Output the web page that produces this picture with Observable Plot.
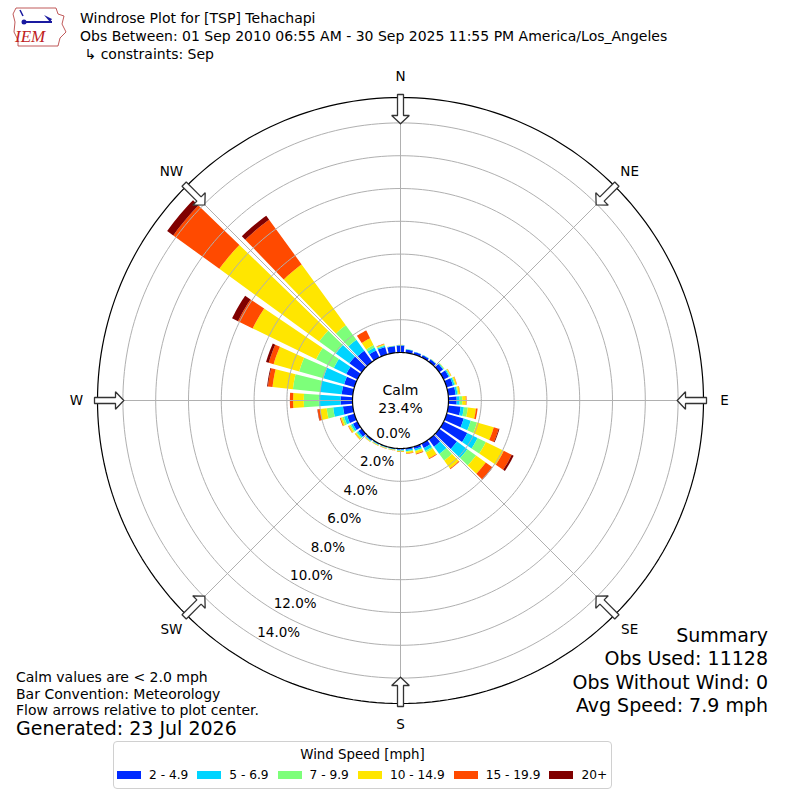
<!DOCTYPE html>
<html>
<head>
<meta charset="utf-8">
<script src="https://cdn.jsdelivr.net/npm/d3@7"></script>
<script src="https://cdn.jsdelivr.net/npm/@observablehq/plot@0.6"></script>
<style>
  html, body { margin: 0; padding: 0; background: white; }
  body { font-family: "DejaVu Sans", sans-serif; color: black; }
  #wrap { position: relative; width: 800px; height: 800px; overflow: hidden; }
  .t { position: absolute; white-space: pre; line-height: 1; }
  #legend { position: absolute; left: 113px; top: 741px; width: 497px; height: 46px;
            border: 1px solid #d0d0d0; border-radius: 4px; background: white; }
  #legend .lt { position: absolute; left: 0; right: 0; top: 5px; text-align: center; font-size: 13.4px; white-space: nowrap; }
  #legend .row { position: absolute; left: 3px; top: 26px; display: flex; align-items: center; font-size: 12.2px; white-space: nowrap; }
  #legend .sw { width: 24px; height: 8px; margin-right: 8px; flex: none; }
  #legend .it { display: flex; align-items: center; margin-right: 9px; white-space: nowrap; flex: none; }
</style>
</head>
<body>
<div id="wrap"></div>
<script>
// ---------------- data ----------------
const directions = [0,10,20,30,40,50,60,70,80,90,100,110,120,130,140,150,160,170,
                    180,190,200,210,220,230,240,250,260,270,280,290,300,310,320,330,340,350];
const speedClasses = ["2 - 4.9", "5 - 6.9", "7 - 9.9", "10 - 14.9", "15 - 19.9", "20+"];
const classColors = ["#002aff", "#00d4ff", "#7dff7a", "#ffe600", "#ff4a00", "#800000"];

// percent of observations per direction, per speed class
const pct_2_4   = [0.43,0.20,0.15,0.15,0.18,0.28,0.35,0.40,0.45,0.50,0.76,1.08,1.60,1.33,0.55,0.30,0.15,0.10,
                   0.08,0.05,0.05,0.06,0.10,0.25,0.30,0.45,0.60,0.73,0.68,0.65,0.75,0.93,0.83,0.47,0.47,0.40];
const pct_5_6   = [0.02,0.02,0.02,0.02,0.02,0.05,0.07,0.10,0.11,0.18,0.20,0.45,0.70,0.79,0.55,0.20,0.10,0.08,
                   0.04,0.03,0.03,0.03,0.04,0.10,0.12,0.20,0.60,1.32,1.34,1.32,0.85,1.02,0.82,0.20,0.08,0.02];
const pct_7_9   = [0.01,0.01,0.00,0.01,0.01,0.03,0.05,0.06,0.06,0.16,0.24,0.40,0.56,0.65,0.50,0.10,0.05,0.04,
                   0.03,0.02,0.02,0.03,0.03,0.07,0.08,0.12,0.40,0.92,1.65,1.53,1.20,1.25,1.10,0.16,0.05,0.01];
const pct_10_14 = [0.01,0.00,0.00,0.00,0.01,0.02,0.05,0.08,0.10,0.22,0.50,1.06,1.22,0.73,0.60,0.40,0.15,0.10,
                   0.05,0.03,0.03,0.03,0.03,0.08,0.10,0.10,0.40,0.65,1.25,1.62,4.30,7.53,4.58,0.47,0.05,0.01];
const pct_15_19 = [0.00,0.00,0.00,0.00,0.00,0.00,0.01,0.02,0.02,0.04,0.10,0.31,0.54,0.50,0.05,0.05,0.05,0.03,
                   0.02,0.01,0.01,0.01,0.01,0.02,0.03,0.05,0.15,0.20,0.28,0.31,1.00,3.47,3.37,0.53,0.03,0.00];
const pct_20p   = [0.00,0.00,0.00,0.00,0.00,0.00,0.00,0.00,0.00,0.00,0.00,0.05,0.13,0.02,0.00,0.00,0.00,0.00,
                   0.00,0.00,0.00,0.00,0.00,0.00,0.00,0.00,0.02,0.00,0.05,0.17,0.40,0.46,0.30,0.00,0.00,0.00];

const ringValues = [0, 2, 4, 6, 8, 10, 12, 14];
const compassLabels = ["N", "NE", "E", "SE", "S", "SW", "W", "NW"];
const compassAngles = [0, 45, 90, 135, 180, 225, 270, 315];
const calmPercent = 23.4;
const summaryLines = ["Summary", "Obs Used: 11128", "Obs Without Wind: 0", "Avg Speed: 7.9 mph"];
const noteLines = ["Calm values are < 2.0 mph", "Bar Convention: Meteorology", "Flow arrows relative to plot center."];
const generatedText = "Generated: 23 Jul 2026";
const titleLines = ["Windrose Plot for [TSP] Tehachapi",
                    "Obs Between: 01 Sep 2010 06:55 AM - 30 Sep 2025 11:55 PM America/Los_Angeles",
                    " \u21b3 constraints: Sep"];
const legendTitle = "Wind Speed [mph]";

// ---------------- geometry helpers (layout) ----------------
const PX = 16.4;            // pixels per percent
const CALM = 48 / PX;       // calm circle radius in percent units
const OUTER = 303 / PX;     // outer frame radius
const LABR = 324 / PX;      // compass label radius
const OPEN = 8;             // bar angular width (deg)
const HALF = 400 / PX;

function pol(r, deg) { const a = deg * Math.PI / 180; return [r * Math.sin(a), r * Math.cos(a)]; }
function circle(r, key, n = 240) {
  const pts = [];
  for (let j = 0; j <= n; j++) { const [x, y] = pol(r, 360 * j / n); pts.push({x, y, key}); }
  return pts;
}

const series = [pct_2_4, pct_5_6, pct_7_9, pct_10_14, pct_15_19, pct_20p];
const wedges = [];
directions.forEach((d, i) => {
  let cum = 0;
  series.forEach((s, k) => {
    const v = s[i];
    if (!(v > 0)) return;
    const r0 = CALM + cum, r1 = CALM + cum + v;
    cum += v;
    const id = d + "-" + k, n = 10;
    for (let j = 0; j <= n; j++) { const [x, y] = pol(r0, d - OPEN / 2 + OPEN * j / n); wedges.push({id, cls: speedClasses[k], x, y}); }
    for (let j = n; j >= 0; j--) { const [x, y] = pol(r1, d - OPEN / 2 + OPEN * j / n); wedges.push({id, cls: speedClasses[k], x, y}); }
  });
});

const ringPts = ringValues.filter(v => v > 0).flatMap(v => circle(CALM + v, v));
const outerPts = circle(OUTER, "outer");
const calmPts = circle(CALM, "calm");

// flow arrows (pointing to center), shape in pixels along/perpendicular
const arrowShape = [[276.7, 0], [285, 8.8], [285, 3], [306, 3], [306, -3], [285, -3], [285, -8.8], [276.7, 0]];
const arrows = compassAngles.flatMap(a => {
  const t = a * Math.PI / 180, s = Math.sin(t), c = Math.cos(t);
  return arrowShape.map(([u, w]) => ({a, x: (u * s + w * c) / PX, y: (u * c - w * s) / PX}));
});

const chart = Plot.plot({
  width: 800, height: 800, margin: 0,
  x: {domain: [-HALF, HALF], axis: null},
  y: {domain: [-HALF, HALF], axis: null},
  color: {domain: speedClasses, range: classColors},
  style: {fontFamily: "DejaVu Sans, sans-serif", background: "white", overflow: "visible"},
  marks: [
    Plot.line(wedges, {x: "x", y: "y", z: "id", fill: "cls", stroke: "none", curve: "linear"}),
    Plot.line(ringPts, {x: "x", y: "y", z: "key", stroke: "#b0b0b0", strokeWidth: 1}),
    Plot.link(compassAngles, {x1: () => 0, y1: () => 0,
      x2: a => pol(OUTER, a)[0], y2: a => pol(OUTER, a)[1], stroke: "#b0b0b0", strokeWidth: 1}),
    Plot.line(calmPts, {x: "x", y: "y", fill: "white", stroke: "black", strokeWidth: 1.2}),
    Plot.line(outerPts, {x: "x", y: "y", stroke: "black", strokeWidth: 1.2}),
    Plot.line(arrows, {x: "x", y: "y", z: "a", fill: "white", stroke: "#333", strokeWidth: 1.3, strokeLinejoin: "miter"}),
    Plot.text(compassAngles, {x: a => pol(LABR, a)[0], y: a => pol(LABR, a)[1],
      text: (a, i) => compassLabels[i], fontSize: 13.5, fill: "black"}),
    Plot.text(ringValues, {x: v => pol(CALM + v, 210)[0], y: v => pol(CALM + v, 210)[1],
      text: v => v.toFixed(1) + "%", dx: 17, dy: -8.5, fontSize: 13.5, fill: "black"}),
    Plot.text([calmPercent], {x: () => 0, y: () => 0, text: d => "Calm\n" + d.toFixed(1) + "%",
      fontSize: 14, lineHeight: 1.25, dy: -2, fill: "black"})
  ]
});

const wrap = document.getElementById("wrap");
chart.style.position = "absolute";
chart.style.left = "0px";
chart.style.top = "0px";
wrap.appendChild(chart);

function addText(txt, css) {
  const el = document.createElement("div");
  el.className = "t";
  el.textContent = txt;
  Object.assign(el.style, css);
  wrap.appendChild(el);
  return el;
}

// logo
const logo = document.createElementNS("http://www.w3.org/2000/svg", "svg");
logo.setAttribute("width", "64"); logo.setAttribute("height", "52");
logo.style.position = "absolute"; logo.style.left = "6px"; logo.style.top = "2px";
logo.innerHTML = `
  <path d="M10 6 L50 6 L52 12 L58 14 L56 22 L60 30 L54 36 L52 44 L12 44 L12 38 L8 30 L9 20 L7 12 Z"
        fill="none" stroke="#b03030" stroke-width="0.8"/>
  <line x1="18" y1="20" x2="46" y2="20" stroke="#1a1aa0" stroke-width="2"/>
  <circle cx="18" cy="20" r="2.5" fill="#1a1aa0"/>
  <path d="M38 13 L46 17 L44 20 Z" fill="#1a1aa0"/>
  <path d="M14 8 L17 14" stroke="#1a1aa0" stroke-width="1.5"/>
  <text x="9" y="40" font-family="Liberation Serif, serif" font-style="italic" font-size="17" fill="#c02020">IEM</text>`;
wrap.appendChild(logo);

// titles
titleLines.forEach((s, i) => addText(s, {left: "80px", top: (11 + i * 18) + "px", fontSize: "14px"}));

// bottom-left notes
noteLines.forEach((s, i) => addText(s, {left: "16px", top: (670 + i * 16.5) + "px", fontSize: "14px"}));
addText(generatedText, {left: "16px", top: "719px", fontSize: "19px"});

// summary (right aligned)
summaryLines.forEach((s, i) => addText(s, {right: "32px", top: (626 + i * 23.3) + "px", fontSize: "19px", textAlign: "right"}));

// legend
const lg = document.createElement("div");
lg.id = "legend";
const lt = document.createElement("div");
lt.className = "lt"; lt.textContent = legendTitle;
lg.appendChild(lt);
const row = document.createElement("div");
row.className = "row";
speedClasses.forEach((c, i) => {
  const it = document.createElement("div"); it.className = "it";
  const sw = document.createElement("div"); sw.className = "sw"; sw.style.background = classColors[i];
  const lb = document.createElement("span"); lb.textContent = c;
  it.appendChild(sw); it.appendChild(lb); row.appendChild(it);
});
lg.appendChild(row);
wrap.appendChild(lg);
</script>
</body>
</html>
